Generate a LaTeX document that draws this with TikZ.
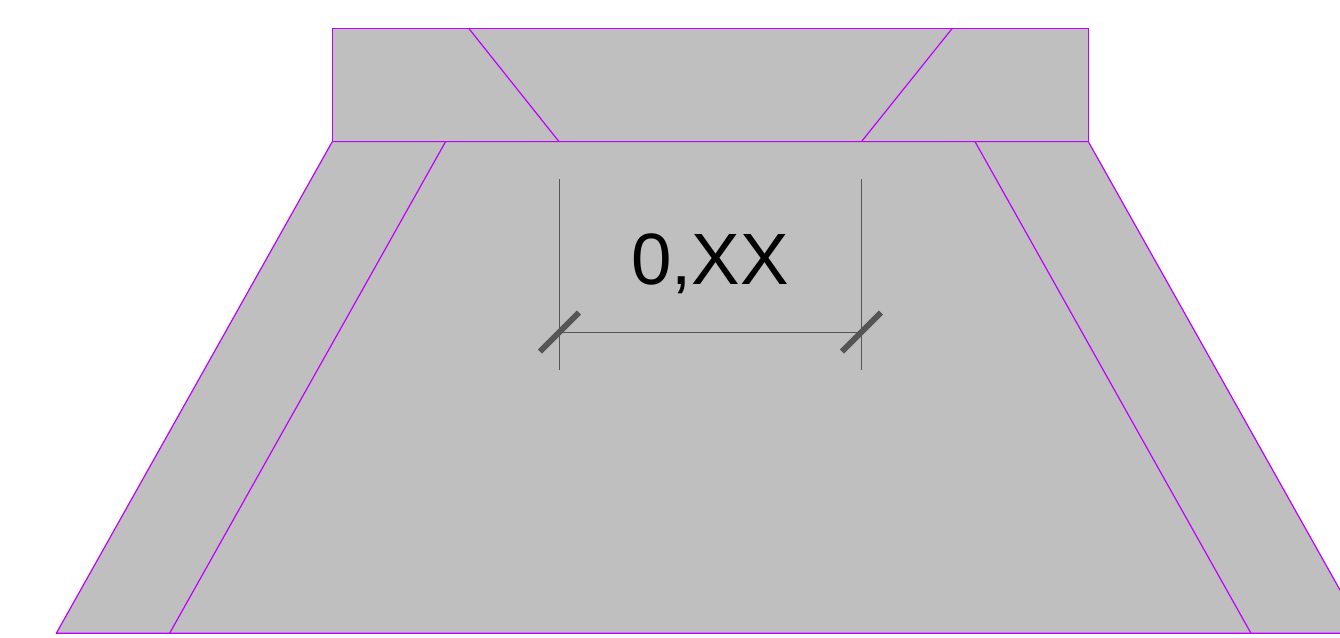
\documentclass[tikz,border=0pt]{standalone}
\usepackage{fontspec}
\setmainfont{Liberation Sans}
\usepackage{xcolor}
\definecolor{panelFill}{HTML}{BFBFBF}
\definecolor{edgeLine}{HTML}{BF00FF}
\definecolor{dimLine}{HTML}{555555}
\tikzset{%
  panel/.style={%
    draw=edgeLine,
    fill=panelFill,
    line width=0.024cm,
    line join=round
  },
  foldLine/.style={%
    draw=edgeLine,
    line width=0.024cm
  },
  dimThin/.style={%
    draw=dimLine,
    line width=0.018cm
  },
  dimTick/.style={%
    draw=dimLine,
    line width=0.115cm
  },
  dimLabel/.style={%
    anchor=base,
    inner sep=0pt,
    font=\fontsize{41.4pt}{48pt}\selectfont
  }
}

\begin{document}
\begin{tikzpicture}[x=0.02cm,y=-0.02cm]
            \useasboundingbox (0,0) rectangle (1340,637);
            \clip (0,0) rectangle (1340,637);

            % top band and lower skirt
            \draw[panel] (332.3,28.3) rectangle (1088.3,141.6);
            \draw[panel] (332.3,141.6) -- (1088.3,141.6) -- (1364.3,633.3) -- (56.3,633.3) -- cycle;

            % fold lines
            \draw[foldLine] (468.7,28.3) -- (559,141.6);
            \draw[foldLine] (952.3,28.3) -- (861.5,141.6);
            \draw[foldLine] (445.6,141.6) -- (169.6,633.3);
            \draw[foldLine] (975,141.6) -- (1251,633.3);

            % dimension
            \coordinate (dimLeft) at (559,332);
            \coordinate (dimRight) at (861.3,332);
            \draw[dimThin] (559,179) -- (559,370);
            \draw[dimThin] (861.3,179) -- (861.3,370);
            \draw[dimThin] (dimLeft) -- (dimRight);
            \draw[dimTick] (540,351.5) -- (579,312.5);
            \draw[dimTick] (842,351.5) -- (881,312.5);
            \node[dimLabel] (dimText) at (710,284) {0,XX};
        \end{tikzpicture}
\end{document}
